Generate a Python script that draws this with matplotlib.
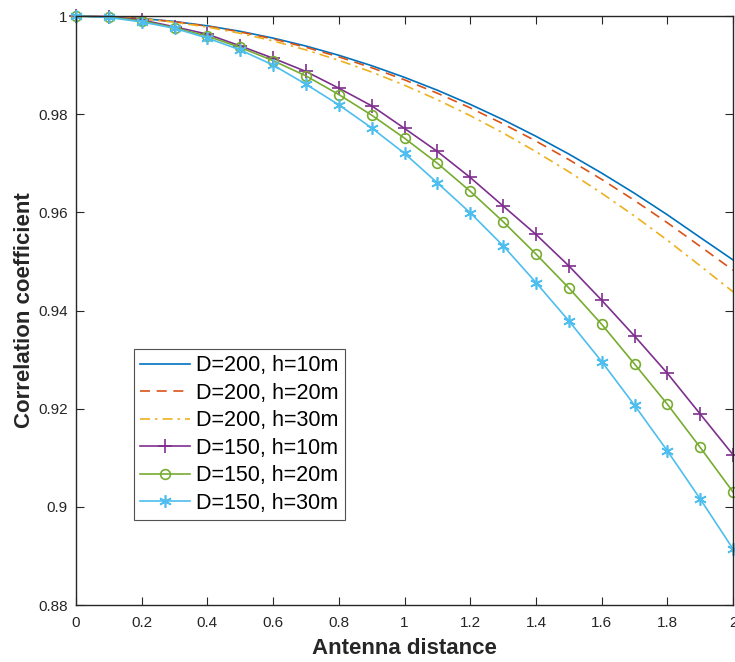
import matplotlib.pyplot as plt
import numpy as np

plt.rcParams['font.family'] = ['Liberation Sans', 'DejaVu Sans']

# antenna distance sampled every 0.1
x = np.round(np.arange(0, 2.01, 0.1), 1)

# D=200 curves (no markers)
d200_h10 = [1.0, 0.99988, 0.9995, 0.99888, 0.998, 0.99688, 0.9955, 0.99388, 0.992, 0.98988,
            0.9875, 0.98488, 0.982, 0.97888, 0.9755, 0.97188, 0.968, 0.96388, 0.9595, 0.95488, 0.9503]
d200_h20 = [1.0, 0.99987, 0.99948, 0.99883, 0.99792, 0.99675, 0.99532, 0.99363, 0.99168, 0.98947,
            0.987, 0.98427, 0.98128, 0.97803, 0.97452, 0.97075, 0.96672, 0.96243, 0.95788, 0.95307, 0.9482]
d200_h30 = [1.0, 0.99986, 0.99944, 0.99873, 0.99774, 0.99648, 0.99492, 0.99309, 0.99098, 0.98858,
            0.9859, 0.98294, 0.9797, 0.97617, 0.97236, 0.96828, 0.9639, 0.95925, 0.95432, 0.9491, 0.9438]

# D=150 curves (with markers)
d150_h10 = [1.0, 0.9999, 0.9992, 0.9978, 0.9963, 0.9939, 0.9914, 0.9887, 0.9853, 0.9817,
            0.9771, 0.9724, 0.9671, 0.9613, 0.9555, 0.9491, 0.9421, 0.9348, 0.9272, 0.9189, 0.9106]
d150_h20 = [1.0, 0.9998, 0.9990, 0.9976, 0.9959, 0.9936, 0.9909, 0.9878, 0.9840, 0.9798,
            0.9751, 0.9700, 0.9643, 0.9581, 0.9515, 0.9446, 0.9372, 0.9291, 0.9209, 0.9121, 0.9030]
d150_h30 = [1.0, 0.9997, 0.9988, 0.9975, 0.9955, 0.9931, 0.9900, 0.9861, 0.9819, 0.9772,
            0.9720, 0.9660, 0.9599, 0.9532, 0.9457, 0.9379, 0.9296, 0.9207, 0.9114, 0.9016, 0.8914]

fig = plt.figure(figsize=(7.35, 6.62), dpi=100)
ax = fig.add_axes([0.1034, 0.0861, 0.894, 0.8897])

ax.plot(x, d200_h10, '-', color='#0072BD', lw=1.2, label='D=200, h=10m')
ax.plot(x, d200_h20, '--', color='#D95319', lw=1.2, dashes=(6, 4), label='D=200, h=20m')
ax.plot(x, d200_h30, '-.', color='#EDB120', lw=1.2, dashes=(6, 3, 1.5, 3), label='D=200, h=30m')
ax.plot(x, d150_h10, '-', color='#7E2F8E', lw=1.2, marker='+', ms=10, mew=1.2, label='D=150, h=10m', clip_on=False)
ax.plot(x, d150_h20, '-', color='#77AC30', lw=1.2, marker='o', ms=7, mfc='none', mew=1.2, label='D=150, h=20m', clip_on=False)
ax.plot(x, d150_h30, '-', color='#4DBEEE', lw=1.2, marker=(6, 2, 0), ms=9, mew=1.2, label='D=150, h=30m', clip_on=False)

ax.set_xlim(0, 2)
ax.set_ylim(0.88, 1)
ax.set_xticks(np.arange(0, 2.01, 0.2))
ax.set_xticklabels(['0', '0.2', '0.4', '0.6', '0.8', '1', '1.2', '1.4', '1.6', '1.8', '2'])
ax.set_yticks([0.88, 0.9, 0.92, 0.94, 0.96, 0.98, 1])
ax.set_yticklabels(['0.88', '0.9', '0.92', '0.94', '0.96', '0.98', '1'])
ax.tick_params(direction='in', top=True, right=True, labelsize=11, length=6,
               color='#262626', labelcolor='#262626')
ax.tick_params(axis='x', pad=8)
ax.tick_params(axis='y', pad=6)
for s in ax.spines.values():
    s.set_color('#262626')
    s.set_linewidth(1.0)

ax.set_xlabel('Antenna distance', fontsize=16, fontweight='bold', color='#262626', labelpad=6)
ax.set_ylabel('Correlation coefficient', fontsize=16, fontweight='bold', color='#262626', labelpad=2)

leg = ax.legend(loc='upper left', bbox_to_anchor=(0.088, 0.435), borderaxespad=0, fontsize=15.5,
                fancybox=False, edgecolor='#262626', handlelength=2.3, labelspacing=0.3,
                handletextpad=0.3, borderpad=0.3)
leg.get_frame().set_linewidth(0.8)

fig.savefig('out.png', dpi=100)
